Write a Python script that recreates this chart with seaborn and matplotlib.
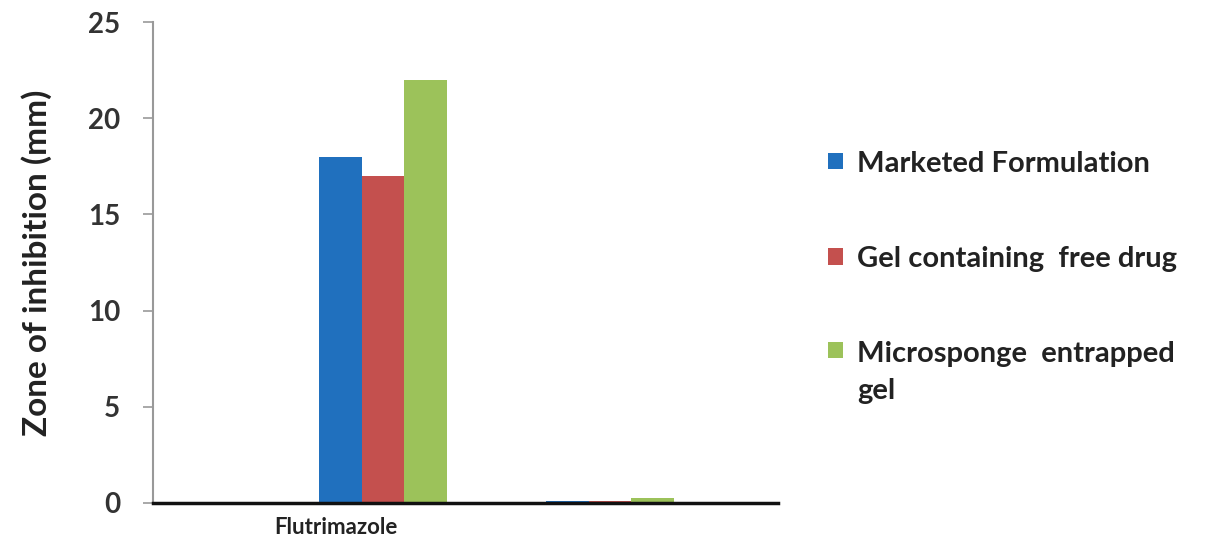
import matplotlib
matplotlib.use("Agg")
import matplotlib.pyplot as plt
import matplotlib.patches as mpatches
import matplotlib.transforms as mtransforms
from matplotlib.legend_handler import HandlerPatch
import pandas as pd
import seaborn as sns

# Zone of inhibition per formulation
categories = ["Flutrimazole", " "]
formulations = ["Marketed Formulation", "Gel containing  free drug", "Microsponge  entrapped\ngel"]
marketed = [18, 0.1]
gel_free = [17, 0.1]
microsponge = [22, 0.25]
yticks = [0, 5, 10, 15, 20, 25]
colors = ["#2070be", "#c4504e", "#9cc25a"]

rows = []
for series, vals in zip(formulations, [marketed, gel_free, microsponge]):
    for cat, v in zip(categories, vals):
        rows.append({"Drug": cat, "Formulation": series, "Zone": v})
df = pd.DataFrame(rows)

sns.set_theme(style="white")
plt.rcParams["font.family"] = ["Lato", "DejaVu Sans"]

fig = plt.figure(figsize=(12.18, 5.46), dpi=100)
ax = fig.add_axes([0.1256, 0.0788, 0.5132, 0.8809])

sns.barplot(data=df, x="Drug", y="Zone", hue="Formulation", order=categories,
            hue_order=formulations, palette=colors, width=0.56, saturation=1,
            edgecolor="none", ax=ax, legend=False)

ax.set_xlim(-1.013, 1.74)
ax.set_ylim(0, 25)
ax.set_yticks(yticks)
ax.set_yticklabels([str(t) for t in yticks], fontsize=20, fontweight="bold", color="#333333")
ax.tick_params(axis="y", direction="out", length=7.5, width=1.2, color="#999999", pad=16, left=True)
ax.tick_params(axis="x", length=0, pad=10)
ax.set_xticks([0])
ax.set_xticklabels(["Flutrimazole"], fontsize=16, fontweight="bold", color="#222222")
shift = mtransforms.ScaledTranslation(-47 / 100, 0, fig.dpi_scale_trans)
for lbl in ax.get_xticklabels():
    lbl.set_transform(lbl.get_transform() + shift)

ax.set_xlabel("")
ax.set_ylabel("Zone of inhibition (mm)", fontsize=24, fontweight="bold", color="#222222", labelpad=26)

for side in ["top", "right"]:
    ax.spines[side].set_visible(False)
ax.spines["left"].set_color("#999999")
ax.spines["left"].set_linewidth(1.5)
ax.spines["bottom"].set_color("#111111")
ax.spines["bottom"].set_linewidth(2.5)

# Legend: square swatches aligned with the first line of each label
handles = [mpatches.Patch(facecolor=c, edgecolor="none") for c in colors]


def square_first_line(legend, orig_handle, xdescent, ydescent, width, height, fontsize):
    lift = 0.0
    if orig_handle is handles[2]:
        lift = 0.78 * fontsize
    return mpatches.Rectangle((-xdescent, -ydescent + lift), width, height)


handler_map = {h: HandlerPatch(patch_func=square_first_line) for h in handles}
leg = fig.legend(handles, formulations, loc="upper left", bbox_to_anchor=(0.668, 0.751),
                 frameon=False, handlelength=0.5, handleheight=0.5, borderpad=0,
                 handletextpad=0.5, labelspacing=2.38, handler_map=handler_map,
                 prop={"weight": "bold", "size": 21})
for t in leg.get_texts():
    t.set_color("#222222")
    t.set_linespacing(1.5)

fig.savefig("out.png", dpi=100, facecolor="white")
